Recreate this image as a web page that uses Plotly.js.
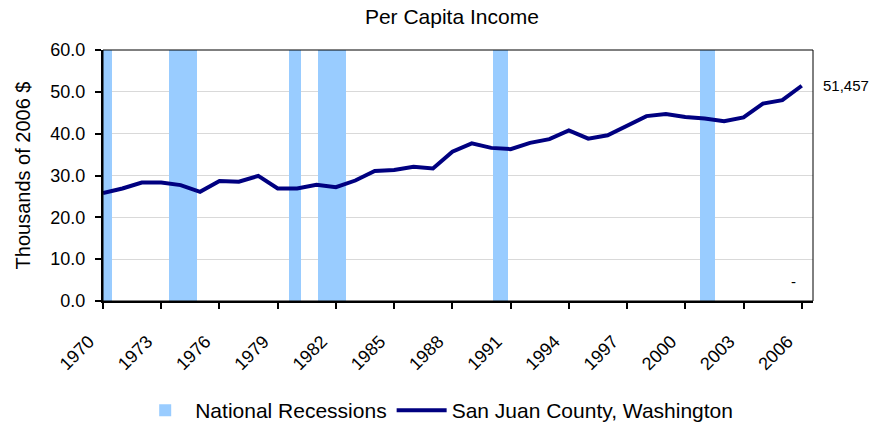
<!DOCTYPE html>
<html>
<head>
<meta charset="utf-8">
<script src="https://cdn.plot.ly/plotly-3.0.1.min.js"></script>
<style>html,body{margin:0;padding:0;background:#fff;}#chart{width:874px;height:428px;}</style>
</head>
<body>
<div id="chart"></div>
<script>
var years = [1970,1971,1972,1973,1974,1975,1976,1977,1978,1979,1980,1981,1982,1983,1984,1985,1986,1987,1988,1989,1990,1991,1992,1993,1994,1995,1996,1997,1998,1999,2000,2001,2002,2003,2004,2005,2006];
var income = [25.8,26.9,28.3,28.3,27.7,26.1,28.7,28.5,29.9,26.9,26.9,27.8,27.2,28.8,31.1,31.3,32.1,31.7,35.7,37.7,36.6,36.3,37.8,38.7,40.8,38.8,39.6,41.8,44.2,44.7,44.0,43.6,43.0,43.9,47.2,48.0,51.457];
var recStart = [1969.9,1973.41,1979.59,1981.09,1990.11,2000.76];
var recEnd   = [1970.48,1974.86,1980.21,1982.53,1990.87,2001.53];
var recHeight = [60,60,60,60,60,60];
var xTicks = [1970,1973,1976,1979,1982,1985,1988,1991,1994,1997,2000,2003,2006];
var lastLabel = "51,457";

var recX = recStart.map(function(s,i){return (s+recEnd[i])/2;});
var recW = recStart.map(function(s,i){return recEnd[i]-s;});

var font = "Liberation Sans, Arial, sans-serif";

var traces = [
  {type:'bar', name:'National Recessions', x:recX, y:recHeight, width:recW,
   marker:{color:'#99CCFF', line:{width:0}}, hoverinfo:'skip'},
  {type:'scatter', mode:'lines', name:'San Juan County, Washington', x:years, y:income,
   line:{color:'#000080', width:4}}
];

var layout = {
  width:874, height:428,
  margin:{l:103, r:61, t:49.5, b:126.5, autoexpand:false},
  paper_bgcolor:'#fff', plot_bgcolor:'#fff',
  font:{family:font, color:'#000', size:18},
  title:{text:'Per Capita Income', font:{family:font, size:21, color:'#000'}, x:0.517, xanchor:'center', y:0.96, yanchor:'middle'},
  showlegend:true,
  legend:{orientation:'h', x:0.47, xanchor:'center', y:-0.355, yanchor:'top', font:{family:font, size:21}, itemwidth:50, traceorder:'normal'},
  bargap:0,
  xaxis:{range:[1970,2006.58], tickvals:xTicks, ticktext:xTicks.map(String), tickangle:-45, automargin:false,
         ticks:'outside', ticklen:6, tickwidth:2, tickcolor:'#000', showgrid:false, zeroline:false,
         showline:true, linecolor:'#000', linewidth:2, tickfont:{family:font, size:18},
         ticklabelstandoff:15, ticklabelshift:-14},
  yaxis:{range:[0,60], dtick:10, tickformat:'.1f', ticks:'outside', ticklen:6, tickwidth:2, tickcolor:'#000', automargin:false,
         showgrid:true, gridcolor:'#d9d9d9', gridwidth:1, zeroline:false,
         showline:true, linecolor:'#000', linewidth:2, ticklabelstandoff:6,
         tickfont:{family:font, size:18},
         title:{text:'Thousands of 2006 $', font:{family:font, size:20}, standoff:14}},
  shapes:[{type:'rect', xref:'x domain', yref:'y domain', x0:0, x1:1, y0:0, y1:1, line:{color:'#000', width:1}, layer:'above'}],
  annotations:[
    {xref:'x', yref:'y', x:years[years.length-1], y:income[income.length-1], text:lastLabel, showarrow:false,
     xanchor:'left', xshift:19, font:{family:font, size:15, color:'#000'}},
    {xref:'x', yref:'y', x:2005.6, y:4.6, text:'-', showarrow:false, font:{family:font, size:15, color:'#000'}}
  ]
};

Plotly.newPlot('chart', traces, layout, {staticPlot:true, displayModeBar:false});
</script>
</body>
</html>
